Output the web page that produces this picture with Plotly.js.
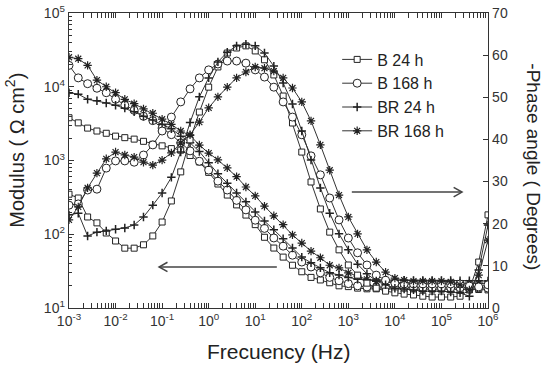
<!DOCTYPE html>
<html>
<head>
<meta charset="utf-8">
<script src="https://cdn.plot.ly/plotly-3.0.1.min.js"></script>
<style>html,body{margin:0;padding:0;background:#fff;}#chart{width:550px;height:366px;}</style>
</head>
<body>
<div id="chart"></div>
<script>
// Frequency (Hz)
const freq = [0.001, 0.00158, 0.00251, 0.00398, 0.00631, 0.01, 0.0158, 0.0251, 0.0398, 0.0631,
  0.1, 0.158, 0.251, 0.398, 0.631, 1, 1.58, 2.51, 3.98, 6.31,
  10, 15.8, 25.1, 39.8, 63.1, 100, 158, 251, 398, 631,
  1000, 1580, 2510, 3980, 6310, 10000, 15800, 25100, 39800, 63100,
  100000, 158000, 251000, 398000, 631000, 1000000];

// Modulus (ohm cm2)
const modB24 = [3800, 3240, 2750, 2510, 2340, 2140, 2040, 1950, 1820, 1660, 1580, 1450, 1380, 1170, 955, 690, 480, 340, 250, 182, 135, 91, 65, 49, 38, 31, 26, 24, 22, 20, 19.5, 18.6, 18.2, 18.2, 18.1, 18.1, 18.0, 18.0, 18.0, 18.0, 18.0, 17.9, 17.9, 17.8, 17.8, 17.6];
const modB168 = [19500, 13200, 11000, 9550, 8300, 6760, 5620, 4790, 3980, 3470, 2750, 2240, 1740, 1350, 977, 741, 525, 398, 288, 214, 155, 120, 89, 69, 52, 42, 36, 30, 26, 23.4, 21.4, 20.0, 19.3, 19.1, 19.0, 19.0, 19.0, 18.9, 18.9, 18.9, 18.8, 18.8, 18.8, 18.7, 18.7, 18.6];
const modBR24 = [8300, 7940, 6760, 6460, 6030, 5620, 5130, 4570, 3980, 3550, 3090, 2690, 2140, 1740, 1320, 933, 661, 490, 363, 275, 200, 151, 115, 87, 65, 49, 41, 35, 30, 28, 26, 24.5, 24.0, 24.0, 23.8, 23.8, 23.8, 23.7, 23.7, 23.7, 23.6, 23.6, 23.5, 23.5, 23.4, 23.2];
const modBR168 = [25100, 24000, 19500, 12300, 10000, 8300, 6760, 5890, 5010, 4370, 3630, 3090, 2510, 2190, 1620, 1260, 1020, 794, 603, 437, 331, 240, 178, 135, 98, 76, 59, 48, 38, 35, 30, 27, 24.5, 23, 22.4, 22, 22, 22, 22, 21.9, 21.9, 21.9, 21.8, 21.8, 21.7, 21.6];

// -Phase angle (degrees)
const phB24 = [27.0, 26.1, 21.6, 20.2, 17.8, 15.9, 14.2, 14.2, 15.0, 17.1, 20.4, 25.4, 32.3, 39.9, 46.5, 52.4, 57.2, 60.5, 61.7, 62.2, 61.0, 58.9, 55.3, 50.3, 43.9, 37.0, 29.9, 23.5, 18.0, 13.8, 10.2, 7.8, 5.9, 4.7, 4.0, 3.6, 3.3, 3.1, 2.8, 2.6, 2.6, 2.6, 2.8, 4.3, 10.9, 22.1];
const phB168 = [24.4, 24.7, 28.0, 28.2, 33.2, 34.9, 34.9, 34.6, 36.3, 38.7, 42.0, 45.3, 48.9, 52.0, 54.6, 56.5, 57.9, 58.6, 58.6, 58.1, 56.5, 54.8, 52.4, 48.9, 45.3, 41.1, 36.1, 31.6, 26.1, 20.9, 16.6, 13.1, 10.2, 7.8, 6.6, 5.9, 5.7, 5.7, 5.7, 5.7, 5.7, 5.7, 5.7, 5.2, 5.0, 5.5];
const phBR24 = [22.1, 22.5, 17.1, 18.0, 18.3, 18.7, 19.0, 19.7, 21.6, 24.4, 27.3, 31.0, 37.0, 44.0, 50.1, 54.6, 58.4, 60.7, 62.2, 62.6, 62.2, 60.5, 57.4, 53.4, 48.4, 42.0, 35.1, 28.5, 22.5, 17.6, 13.8, 10.4, 8.1, 6.4, 5.5, 4.7, 4.5, 4.3, 4.0, 4.0, 4.0, 3.8, 3.6, 2.8, 9.0, 19.7];
const phBR168 = [20.9, 24.0, 28.5, 32.0, 35.4, 37.0, 36.3, 35.8, 34.6, 33.9, 35.1, 36.8, 39.2, 41.1, 44.1, 47.5, 50.1, 52.4, 54.6, 56.0, 57.2, 56.9, 56.2, 54.6, 52.2, 48.9, 44.4, 38.7, 32.7, 26.8, 21.6, 17.6, 13.8, 10.9, 8.5, 7.1, 6.6, 6.4, 6.4, 6.4, 6.4, 6.2, 5.5, 4.3, 7.8, 16.1];

const seriesNames = ['B 24 h', 'B 168 h', 'BR 24 h', 'BR 168 h'];

// Tick labels
const xTickVals = [0.001, 0.01, 0.1, 1, 10, 100, 1000, 10000, 100000, 1000000];
const xTickText = ['10<sup>-3</sup>', '10<sup>-2</sup>', '10<sup>-1</sup>', '10<sup>0</sup>', '10<sup>1</sup>', '10<sup>2</sup>', '10<sup>3</sup>', '10<sup>4</sup>', '10<sup>5</sup>', '10<sup>6</sup>'];
const yTickVals = [10, 100, 1000, 10000, 100000];
const yTickText = ['10<sup>1</sup>', '10<sup>2</sup>', '10<sup>3</sup>', '10<sup>4</sup>', '10<sup>5</sup>'];

const INK = '#222';
const FONT = 'Arial, "Liberation Sans", sans-serif';
const markers = [
  {symbol: 'square', size: 6, color: '#fff', line: {color: INK, width: 1}},
  {symbol: 'circle', size: 8, color: '#fff', line: {color: INK, width: 1}},
  {symbol: 'cross-thin-open', size: 6, color: INK, line: {color: INK, width: 1.5}},
  {symbol: 'asterisk-open', size: 7, color: INK, line: {color: INK, width: 1.2}}
];
const mods = [modB24, modB168, modBR24, modBR168];
const phs = [phB24, phB168, phBR24, phBR168];

const traces = [];
for (let i = 0; i < 4; i++) {
  traces.push({
    x: freq, y: mods[i], type: 'scatter', mode: 'lines+markers',
    name: seriesNames[i], legendgroup: 'g' + i, showlegend: false,
    line: {color: '#333', width: 1}, marker: markers[i], xaxis: 'x', yaxis: 'y'
  });
}
for (let i = 0; i < 4; i++) {
  traces.push({
    x: freq, y: phs[i], type: 'scatter', mode: 'lines+markers',
    name: seriesNames[i], legendgroup: 'g' + i, showlegend: true,
    line: {color: '#333', width: 1}, marker: markers[i], xaxis: 'x', yaxis: 'y2'
  });
}

const axisCommon = {
  showline: true, linecolor: '#333', linewidth: 1.3, showgrid: false, zeroline: false,
  ticks: 'inside', ticklen: 5, tickcolor: '#333', tickwidth: 1,
  tickfont: {family: FONT, size: 14, color: '#333'}
};

const arrowColor = '#444';
const dxh = 0.02, dyh = 0.016;
const layout = {
  width: 550, height: 366,
  margin: {l: 69, r: 62, t: 13, b: 58},
  paper_bgcolor: '#fff', plot_bgcolor: '#fff',
  font: {family: FONT, color: '#222'},
  xaxis: Object.assign({}, axisCommon, {
    type: 'log', range: [-3, 6], tickmode: 'array', tickvals: xTickVals, ticktext: xTickText,
    mirror: 'allticks',
    minor: {dtick: 'D1', ticks: 'inside', ticklen: 3, tickcolor: '#333', tickwidth: 1}
  }),
  yaxis: Object.assign({}, axisCommon, {
    type: 'log', range: [1, 5], tickmode: 'array', tickvals: yTickVals, ticktext: yTickText,
    minor: {dtick: 'D1', ticks: 'inside', ticklen: 3, tickcolor: '#333', tickwidth: 1}
  }),
  yaxis2: Object.assign({}, axisCommon, {
    overlaying: 'y', side: 'right', range: [0, 70], dtick: 10, tick0: 0
  }),
  showlegend: true,
  legend: {
    x: 0.64, y: 0.9, xanchor: 'left', yanchor: 'top',
    bgcolor: 'rgba(0,0,0,0)', borderwidth: 0,
    font: {family: FONT, size: 16, color: '#222'}, tracegroupgap: 0
  },
  annotations: [
    {text: 'Frecuency (Hz)', xref: 'paper', yref: 'paper', x: 0.5, y: -0.148, yanchor: 'middle',
     showarrow: false, font: {family: FONT, size: 21, color: '#222'}},
    {text: 'Modulus ( \u03A9 cm<sup>2</sup>)', xref: 'paper', yref: 'paper', x: -0.13, y: 0.535,
     xanchor: 'center', yanchor: 'middle', textangle: -90, showarrow: false,
     font: {family: FONT, size: 20, color: '#222'}},
    {text: '-Phase angle ( Degrees)', xref: 'paper', yref: 'paper', x: 1.11, y: 0.48,
     xanchor: 'center', yanchor: 'middle', textangle: 90, showarrow: false,
     font: {family: FONT, size: 19, color: '#222'}}
  ],
  shapes: [
    {type: 'line', xref: 'paper', yref: 'paper', x0: 0.215, y0: 0.139, x1: 0.496, y1: 0.139,
     line: {color: arrowColor, width: 1.5}},
    {type: 'path', xref: 'paper', yref: 'paper',
     path: `M ${0.215 + dxh} ${0.139 + dyh} L 0.215 0.139 L ${0.215 + dxh} ${0.139 - dyh}`,
     line: {color: arrowColor, width: 1.5}},
    {type: 'line', xref: 'paper', yref: 'paper', x0: 0.675, y0: 0.393, x1: 0.938, y1: 0.393,
     line: {color: arrowColor, width: 1.5}},
    {type: 'path', xref: 'paper', yref: 'paper',
     path: `M ${0.938 - dxh} ${0.393 + dyh} L 0.938 0.393 L ${0.938 - dxh} ${0.393 - dyh}`,
     line: {color: arrowColor, width: 1.5}}
  ]
};

Plotly.newPlot('chart', traces, layout, {displayModeBar: false, staticPlot: true});
</script>
</body>
</html>
